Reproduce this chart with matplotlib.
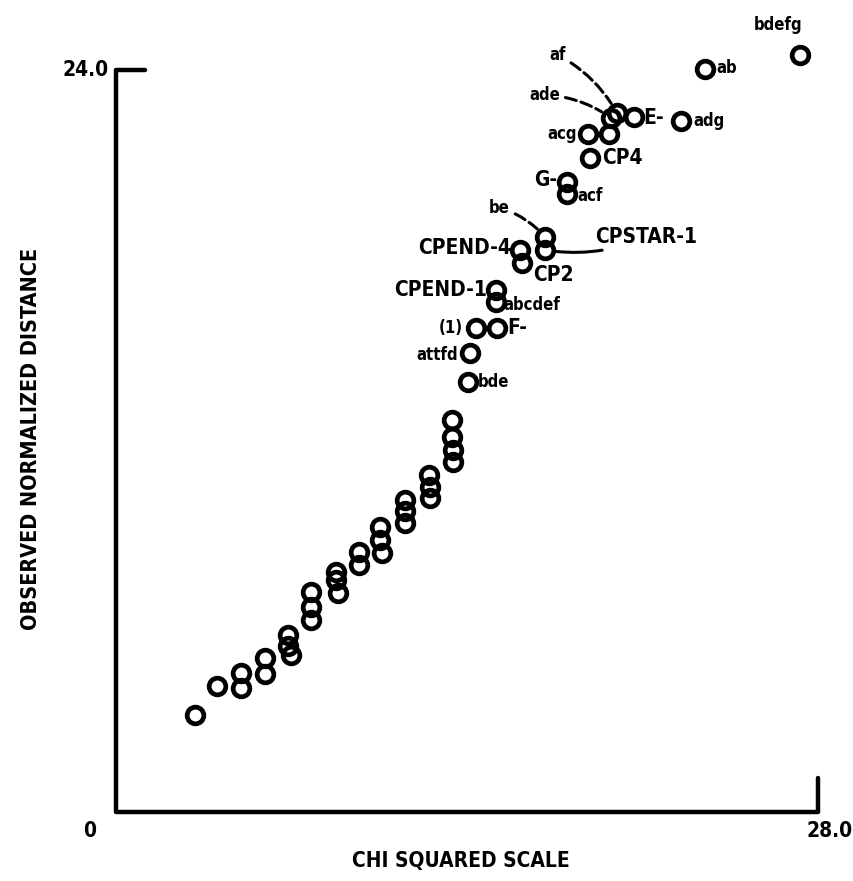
import matplotlib
matplotlib.use('Agg')
import matplotlib.pyplot as plt
from matplotlib import font_manager

# unlabelled points along the lower trend
chi_x = [3.15, 4.03, 4.99, 4.99, 5.94, 5.94, 6.86, 6.86, 6.98,
         7.78, 7.78, 7.78, 8.78, 8.78, 8.86, 9.69, 9.69,
         10.53, 10.53, 10.61, 11.53, 11.53, 11.53,
         12.49, 12.53, 12.53, 13.40, 13.40, 13.44, 13.44, 19.67]
obs_y = [3.14, 4.07, 4.50, 4.01, 4.98, 4.46, 5.72, 5.37, 5.08,
         7.12, 6.63, 6.21, 7.76, 7.50, 7.08, 8.41, 7.99,
         9.22, 8.80, 8.38, 10.09, 9.73, 9.35,
         10.90, 10.51, 10.16, 12.68, 12.13, 11.71, 11.32, 21.93]

# labelled points in the upper part
names = ['bdefg', 'ab', 'adg', 'E-', 'af', 'ade', 'acg', 'CP4', 'G-', 'acf',
         'be', 'CPSTAR-1', 'CPEND-4', 'CP2', 'CPEND-1', 'abcdef',
         '(1)', 'F-', 'attfd', 'bde']
lab_x = [27.28, 23.49, 22.54, 20.66, 19.98, 19.74, 18.83, 18.91, 17.99, 17.99,
         17.11, 17.11, 16.11, 16.19, 15.16, 15.16,
         14.36, 15.20, 14.12, 14.04]
lab_y = [24.48, 24.03, 22.35, 22.48, 22.61, 22.45, 21.93, 21.15, 20.37, 19.99,
         18.60, 18.18, 18.18, 17.76, 16.88, 16.49,
         15.65, 15.65, 14.84, 13.91]

x_max = 28.0
y_max = 24.0

# label offsets in pixels, alignment and leader style
offsets = {
    'bdefg': (-22, 30, 'center', None), 'ab': (11, 1, 'left', None),
    'adg': (12, 0, 'left', None), 'E-': (9, -1, 'left', None),
    'af': (-51, 58, 'right', '--'), 'ade': (-51, 23, 'right', '--'),
    'acg': (-11, 0, 'right', None), 'CP4': (12, 0, 'left', None),
    'G-': (-10, 2, 'right', None), 'acf': (10, -2, 'left', None),
    'be': (-35, 29, 'right', '--'), 'CPSTAR-1': (50, 13, 'left', '-'),
    'CPEND-4': (-9, 2, 'right', None), 'CP2': (11, -12, 'left', None),
    'CPEND-1': (-9, 0, 'right', None), 'abcdef': (7, -3, 'left', None),
    '(1)': (-13, 0, 'right', None), 'F-': (10, 0, 'left', None),
    'attfd': (-12, -2, 'right', None), 'bde': (10, 0, 'left', None),
}

# prefer a narrow face if the system has one
installed = {f.name for f in font_manager.fontManager.ttflist}
font = [f for f in ['Liberation Sans Narrow', 'DejaVu Sans'] if f in installed]
txt = dict(fontweight='bold', family=font, fontstretch='condensed')

fig = plt.figure(figsize=(8.54, 8.81), dpi=100)
ax = fig.add_axes([0, 0, 1, 1])
px_x = 702 / x_max
px_y = 742 / y_max
ax.set_xlim(-116 / px_x, (854 - 116) / px_x)
ax.set_ylim(-(881 - 812) / px_y, 812 / px_y)
ax.axis('off')

# axis frame: left axis with top tick, bottom axis with right tick
ax.plot([1.15, 0, 0, x_max, x_max], [y_max, y_max, 0, 0, 1.1],
        color='black', lw=3.2, solid_joinstyle='round', solid_capstyle='round')

mk = dict(marker='o', ms=12, mfc='none', mec='black', mew=3.4, ls='none')
ax.plot(chi_x, obs_y, **mk)
ax.plot(lab_x, lab_y, **mk)

for name, x, y in zip(names, lab_x, lab_y):
    dx, dy, ha, leader = offsets[name]
    size = 15 if name.isupper() or name[:2] == 'CP' else 12
    kw = {}
    if leader:
        kw['arrowprops'] = dict(arrowstyle='-', color='black', lw=2.2,
                                linestyle=leader, shrinkA=2, shrinkB=8,
                                connectionstyle='arc3,rad=-0.15')
    ax.annotate(name, (x, y), xytext=(dx, dy), textcoords='offset pixels',
                ha=ha, va='center', fontsize=size, **txt, **kw)

ax.text(-0.3, y_max, '24.0', ha='right', va='center', fontsize=15, **txt)
ax.text(-1.05, -0.6, '0', ha='center', va='center', fontsize=15, **txt)
ax.text(28.45, -0.6, '28.0', ha='center', va='center', fontsize=15, **txt)

ax.text(13.75, -1.6, 'CHI SQUARED SCALE', ha='center', va='center',
        fontsize=15, **txt)
ax.text(-3.4, 12.06, 'OBSERVED NORMALIZED DISTANCE', ha='center', va='center',
        rotation=90, fontsize=15.5, **txt)

fig.savefig('out.png', dpi=100)
